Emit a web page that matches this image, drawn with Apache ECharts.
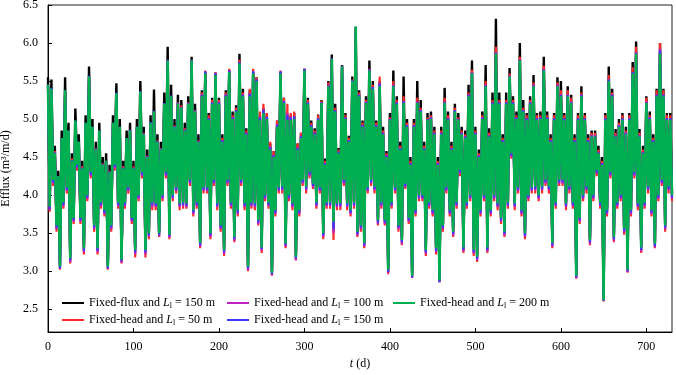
<!DOCTYPE html>
<html>
<head>
<meta charset="utf-8">
<script src="https://cdn.jsdelivr.net/npm/echarts@6/dist/echarts.min.js"></script>
<style>
  html, body { margin: 0; padding: 0; background: #fff; }
  #chart { width: 676px; height: 375px; }
</style>
</head>
<body>
<div id="chart"></div>
<script>
// values, one every 2 days (t = 0, 2, 4 ... 730)
const DAY_STEP = 2;

const fixedFlux150 = [
  5.55, 3.88, 5.52, 4.22, 4.65, 3.63, 4.32, 3.10, 4.85, 3.93,
  5.55, 4.12, 4.95, 3.20, 4.55, 3.72, 5.14, 4.42, 4.80, 3.72,
  4.45, 3.33, 5.05, 4.02, 5.69, 4.32, 5.00, 3.62, 4.70, 3.33,
  4.95, 3.92, 4.50, 3.82, 4.55, 3.10, 4.40, 3.62, 5.05, 4.42,
  5.47, 3.92, 5.00, 3.18, 4.45, 3.92, 4.85, 4.12, 4.95, 3.72,
  4.45, 3.31, 5.00, 4.02, 5.50, 4.32, 4.90, 3.31, 4.60, 3.52,
  5.05, 3.92, 5.39, 3.91, 4.80, 3.52, 4.70, 4.02, 5.35, 4.32,
  5.95, 3.50, 5.45, 4.02, 5.00, 4.12, 5.32, 3.91, 5.25, 3.92,
  4.95, 3.91, 5.30, 4.22, 5.82, 3.82, 5.20, 3.92, 4.80, 3.40,
  5.38, 4.12, 5.62, 4.12, 5.08, 3.52, 5.28, 4.22, 5.60, 3.91,
  5.28, 3.62, 4.80, 3.31, 5.38, 4.22, 5.64, 3.92, 5.10, 3.48,
  5.18, 3.82, 5.86, 4.22, 5.40, 3.91, 4.88, 3.09, 5.38, 3.92,
  5.62, 3.91, 5.55, 3.69, 5.05, 3.34, 5.15, 4.02, 5.08, 3.92,
  4.68, 3.01, 4.58, 3.82, 4.98, 4.12, 5.62, 4.13, 5.28, 3.39,
  5.05, 4.02, 5.05, 3.91, 5.08, 3.22, 4.68, 3.82, 4.82, 4.22,
  5.66, 4.13, 5.28, 4.32, 4.98, 4.17, 4.88, 3.92, 5.06, 4.12,
  5.25, 3.53, 4.48, 3.92, 5.50, 3.92, 5.85, 3.68, 5.20, 3.91,
  4.62, 3.91, 5.71, 4.22, 5.08, 3.91, 4.78, 3.82, 5.56, 3.92,
  6.18, 3.55, 5.38, 3.62, 4.98, 3.40, 5.30, 4.12, 5.77, 4.22,
  5.50, 4.13, 4.98, 3.70, 5.50, 3.92, 4.90, 3.70, 4.58, 3.05,
  5.08, 3.92, 5.64, 4.12, 5.30, 3.62, 4.70, 3.44, 5.56, 4.17,
  5.00, 3.72, 4.50, 2.98, 5.00, 3.82, 5.50, 4.02, 5.25, 4.02,
  4.70, 3.31, 5.08, 3.92, 5.10, 3.82, 4.90, 3.33, 4.50, 2.91,
  4.90, 3.62, 5.41, 4.12, 5.10, 3.82, 4.70, 3.55, 5.20, 3.92,
  5.08, 4.35, 4.90, 3.34, 4.85, 3.92, 5.45, 4.02, 5.77, 3.31,
  4.90, 3.22, 4.60, 3.82, 5.10, 4.02, 5.71, 3.34, 4.88, 3.82,
  5.35, 4.02, 6.32, 3.91, 5.35, 3.72, 4.80, 3.55, 5.35, 3.92,
  5.67, 4.57, 5.30, 3.91, 5.10, 4.12, 6.00, 3.82, 5.25, 3.53,
  5.08, 4.02, 5.30, 4.12, 5.58, 4.13, 5.08, 4.02, 5.10, 4.13,
  5.82, 4.22, 5.10, 4.13, 4.80, 3.40, 5.08, 3.92, 5.55, 4.22,
  5.50, 4.22, 5.08, 3.91, 5.43, 4.13, 5.32, 3.92, 4.80, 2.97,
  5.08, 3.72, 5.43, 4.02, 5.08, 4.13, 4.80, 3.44, 4.85, 4.02,
  4.85, 4.35, 4.65, 3.92, 4.50, 2.66, 5.08, 3.82, 5.69, 4.32,
  5.40, 3.48, 4.87, 3.92, 5.00, 4.02, 5.08, 3.59, 4.90, 3.05,
  5.08, 3.82, 5.75, 4.32, 6.02, 3.91, 4.87, 3.34, 4.65, 3.92,
  5.30, 4.13, 5.10, 3.82, 4.80, 3.39, 5.40, 4.02, 6.00, 4.22,
  5.40, 3.62, 5.08, 4.13, 5.08, 4.02
];

const fixedHead50 = [
  5.42, 3.78, 5.38, 4.12, 4.58, 3.52, 4.20, 3.02, 4.72, 3.82,
  5.36, 4.02, 4.82, 3.10, 4.48, 3.62, 4.95, 4.32, 4.68, 3.62,
  4.38, 3.22, 4.92, 3.92, 5.55, 4.22, 4.88, 3.52, 4.62, 3.22,
  4.82, 3.82, 4.42, 3.72, 4.42, 3.02, 4.32, 3.52, 4.92, 4.32,
  5.33, 3.82, 4.88, 3.10, 4.38, 3.82, 4.72, 4.02, 4.85, 3.62,
  4.38, 3.18, 4.88, 3.92, 5.35, 4.22, 4.82, 3.18, 4.52, 3.42,
  4.95, 3.80, 5.10, 3.80, 4.72, 3.45, 4.62, 3.92, 5.20, 4.22,
  5.78, 3.42, 5.30, 3.92, 4.92, 4.02, 5.22, 3.80, 5.18, 3.82,
  4.88, 3.82, 5.22, 4.12, 5.78, 3.72, 5.12, 3.82, 4.72, 3.30,
  5.35, 4.02, 5.64, 4.02, 5.05, 3.42, 5.25, 4.12, 5.62, 3.80,
  5.25, 3.52, 4.75, 3.20, 5.35, 4.12, 5.66, 3.82, 5.05, 3.38,
  5.15, 3.72, 5.78, 4.12, 5.35, 3.80, 4.85, 3.00, 5.40, 3.82,
  5.66, 3.80, 5.55, 3.60, 5.10, 3.24, 5.20, 3.92, 5.08, 3.82,
  4.70, 2.94, 4.58, 3.72, 4.98, 4.02, 5.64, 4.02, 5.28, 3.30,
  5.20, 3.92, 5.08, 3.80, 5.10, 3.14, 4.68, 3.72, 4.82, 4.12,
  5.66, 4.02, 5.25, 4.22, 4.95, 4.08, 4.85, 3.82, 5.05, 4.02,
  5.24, 3.42, 4.45, 3.82, 5.48, 3.82, 5.80, 3.41, 5.15, 3.80,
  4.60, 3.80, 5.70, 4.12, 5.05, 3.80, 4.75, 3.72, 5.52, 3.82,
  6.20, 3.45, 5.35, 3.52, 4.95, 3.30, 5.25, 4.02, 5.66, 4.12,
  5.45, 4.02, 4.95, 3.60, 5.56, 3.82, 4.85, 3.60, 4.55, 2.96,
  5.02, 3.82, 5.50, 4.02, 5.25, 3.52, 4.65, 3.34, 5.30, 4.08,
  4.95, 3.62, 4.45, 2.92, 4.95, 3.72, 5.28, 3.92, 5.15, 3.92,
  4.65, 3.20, 5.02, 3.82, 5.05, 3.72, 4.85, 3.22, 4.45, 2.86,
  4.85, 3.52, 5.28, 4.02, 5.05, 3.72, 4.65, 3.45, 5.15, 3.82,
  5.02, 4.25, 4.85, 3.24, 4.80, 3.82, 5.35, 3.92, 5.65, 3.20,
  4.85, 3.12, 4.55, 3.72, 5.05, 3.92, 5.50, 3.24, 4.82, 3.72,
  5.25, 3.92, 5.95, 3.80, 5.25, 3.62, 4.75, 3.45, 5.25, 3.82,
  5.60, 4.48, 5.25, 3.80, 5.05, 4.02, 5.82, 3.72, 5.15, 3.42,
  5.05, 3.92, 5.25, 4.02, 5.48, 4.02, 5.05, 3.92, 5.05, 4.02,
  5.70, 4.12, 5.05, 4.02, 4.75, 3.30, 5.05, 3.82, 5.48, 4.12,
  5.38, 4.12, 5.05, 3.80, 5.38, 4.02, 5.28, 3.82, 4.75, 2.90,
  5.05, 3.62, 5.35, 3.92, 5.05, 4.02, 4.75, 3.34, 4.82, 3.92,
  4.82, 4.25, 4.60, 3.82, 4.45, 2.60, 5.05, 3.72, 5.58, 4.22,
  5.35, 3.38, 4.82, 3.82, 4.95, 3.92, 5.05, 3.48, 4.85, 2.98,
  5.05, 3.72, 5.68, 4.22, 5.95, 3.80, 4.82, 3.24, 4.60, 3.82,
  5.28, 4.02, 5.05, 3.72, 4.75, 3.30, 5.38, 3.92, 6.00, 4.12,
  5.38, 3.52, 5.05, 4.02, 5.05, 3.92
];

const fixedHead100 = [
  5.44, 3.80, 5.40, 4.15, 4.56, 3.55, 4.22, 3.03, 4.74, 3.85,
  5.37, 4.05, 4.84, 3.12, 4.46, 3.65, 4.97, 4.35, 4.69, 3.65,
  4.36, 3.25, 4.94, 3.95, 5.56, 4.25, 4.89, 3.55, 4.61, 3.25,
  4.84, 3.85, 4.41, 3.75, 4.44, 3.03, 4.31, 3.55, 4.94, 4.35,
  5.34, 3.85, 4.89, 3.11, 4.36, 3.85, 4.74, 4.05, 4.85, 3.65,
  4.36, 3.22, 4.89, 3.95, 5.36, 4.25, 4.81, 3.22, 4.51, 3.45,
  4.95, 3.84, 5.10, 3.84, 4.71, 3.46, 4.61, 3.95, 5.20, 4.25,
  5.78, 3.44, 5.30, 3.95, 4.91, 4.05, 5.21, 3.84, 5.16, 3.85,
  4.86, 3.84, 5.21, 4.15, 5.77, 3.75, 5.11, 3.85, 4.71, 3.32,
  5.32, 4.05, 5.62, 4.05, 5.01, 3.45, 5.22, 4.15, 5.60, 3.84,
  5.22, 3.55, 4.72, 3.23, 5.32, 4.15, 5.64, 3.85, 5.02, 3.40,
  5.12, 3.75, 5.75, 4.15, 5.32, 3.84, 4.82, 3.02, 5.34, 3.85,
  5.63, 3.84, 5.52, 3.62, 5.03, 3.27, 5.13, 3.95, 5.03, 3.85,
  4.64, 2.95, 4.53, 3.75, 4.93, 4.05, 5.62, 4.06, 5.24, 3.32,
  5.08, 3.95, 5.03, 3.84, 5.04, 3.15, 4.63, 3.75, 4.78, 4.15,
  5.65, 4.06, 5.22, 4.25, 4.92, 4.10, 4.82, 3.85, 5.01, 4.05,
  5.22, 3.45, 4.42, 3.85, 5.45, 3.85, 5.79, 3.50, 5.12, 3.84,
  4.57, 3.84, 5.69, 4.15, 5.02, 3.84, 4.72, 3.75, 5.51, 3.85,
  6.21, 3.47, 5.32, 3.55, 4.92, 3.32, 5.23, 4.05, 5.65, 4.15,
  5.42, 4.06, 4.92, 3.62, 5.48, 3.85, 4.82, 3.62, 4.52, 2.98,
  5.00, 3.85, 5.45, 4.05, 5.22, 3.55, 4.62, 3.36, 5.24, 4.10,
  4.92, 3.65, 4.42, 2.91, 4.92, 3.75, 5.23, 3.95, 5.12, 3.95,
  4.62, 3.23, 5.00, 3.85, 5.02, 3.75, 4.82, 3.25, 4.42, 2.85,
  4.82, 3.55, 5.23, 4.05, 5.01, 3.75, 4.62, 3.47, 5.12, 3.85,
  5.00, 4.28, 4.82, 3.26, 4.77, 3.85, 5.32, 3.95, 5.61, 3.23,
  4.82, 3.14, 4.52, 3.75, 5.02, 3.95, 5.45, 3.26, 4.79, 3.75,
  5.22, 3.95, 5.88, 3.84, 5.22, 3.65, 4.72, 3.47, 5.22, 3.85,
  5.57, 4.50, 5.22, 3.84, 5.02, 4.05, 5.78, 3.75, 5.12, 3.45,
  5.01, 3.95, 5.22, 4.05, 5.45, 4.06, 5.01, 3.95, 5.02, 4.06,
  5.65, 4.15, 5.02, 4.06, 4.72, 3.32, 5.01, 3.85, 5.45, 4.15,
  5.32, 4.15, 5.01, 3.84, 5.32, 4.06, 5.23, 3.85, 4.72, 2.91,
  5.01, 3.65, 5.32, 3.95, 5.01, 4.06, 4.72, 3.36, 4.79, 3.95,
  4.79, 4.28, 4.57, 3.85, 4.42, 2.61, 5.01, 3.75, 5.52, 4.25,
  5.32, 3.40, 4.79, 3.85, 4.92, 3.95, 5.01, 3.51, 4.82, 2.99,
  5.01, 3.75, 5.62, 4.25, 5.88, 3.84, 4.79, 3.26, 4.57, 3.85,
  5.23, 4.06, 5.02, 3.75, 4.72, 3.31, 5.32, 3.95, 5.92, 4.15,
  5.32, 3.55, 5.01, 4.06, 5.01, 3.95
];

const fixedHead150 = [
  5.45, 3.82, 5.41, 4.17, 4.56, 3.57, 4.23, 3.04, 4.75, 3.87,
  5.38, 4.07, 4.85, 3.14, 4.46, 3.67, 4.98, 4.37, 4.70, 3.67,
  4.36, 3.27, 4.95, 3.97, 5.57, 4.27, 4.90, 3.57, 4.61, 3.27,
  4.85, 3.87, 4.41, 3.77, 4.45, 3.04, 4.31, 3.57, 4.95, 4.37,
  5.35, 3.87, 4.90, 3.13, 4.36, 3.87, 4.75, 4.07, 4.86, 3.67,
  4.36, 3.25, 4.90, 3.97, 5.37, 4.27, 4.81, 3.25, 4.51, 3.47,
  4.96, 3.87, 5.11, 3.86, 4.71, 3.48, 4.61, 3.97, 5.21, 4.27,
  5.78, 3.46, 5.31, 3.97, 4.91, 4.07, 5.21, 3.86, 5.16, 3.87,
  4.86, 3.86, 5.21, 4.17, 5.78, 3.77, 5.11, 3.87, 4.71, 3.34,
  5.32, 4.07, 5.63, 4.07, 5.01, 3.47, 5.22, 4.17, 5.61, 3.86,
  5.22, 3.57, 4.72, 3.25, 5.32, 4.17, 5.64, 3.87, 5.02, 3.42,
  5.12, 3.77, 5.75, 4.17, 5.32, 3.86, 4.82, 3.04, 5.33, 3.87,
  5.63, 3.86, 5.52, 3.64, 5.02, 3.29, 5.12, 3.97, 5.03, 3.87,
  4.63, 2.96, 4.52, 3.77, 4.92, 4.07, 5.63, 4.08, 5.23, 3.34,
  5.05, 3.97, 5.02, 3.86, 5.03, 3.17, 4.62, 3.77, 4.77, 4.17,
  5.66, 4.08, 5.22, 4.27, 4.92, 4.12, 4.82, 3.87, 5.01, 4.07,
  5.22, 3.47, 4.42, 3.87, 5.44, 3.87, 5.80, 3.55, 5.12, 3.86,
  4.57, 3.86, 5.70, 4.17, 5.02, 3.86, 4.72, 3.77, 5.51, 3.87,
  6.21, 3.49, 5.32, 3.57, 4.92, 3.34, 5.22, 4.07, 5.65, 4.17,
  5.42, 4.08, 4.92, 3.64, 5.46, 3.87, 4.82, 3.64, 4.52, 2.99,
  5.00, 3.87, 5.44, 4.07, 5.22, 3.57, 4.62, 3.38, 5.23, 4.12,
  4.92, 3.67, 4.42, 2.92, 4.92, 3.77, 5.22, 3.97, 5.12, 3.97,
  4.62, 3.25, 5.00, 3.87, 5.02, 3.77, 4.82, 3.27, 4.42, 2.86,
  4.82, 3.57, 5.22, 4.07, 5.01, 3.77, 4.62, 3.49, 5.12, 3.87,
  5.00, 4.30, 4.82, 3.28, 4.77, 3.87, 5.32, 3.97, 5.61, 3.25,
  4.82, 3.16, 4.52, 3.77, 5.02, 3.97, 5.44, 3.28, 4.78, 3.77,
  5.22, 3.97, 5.87, 3.86, 5.22, 3.67, 4.72, 3.49, 5.22, 3.87,
  5.57, 4.52, 5.22, 3.86, 5.02, 4.07, 5.78, 3.77, 5.12, 3.47,
  5.01, 3.97, 5.22, 4.07, 5.44, 4.08, 5.01, 3.97, 5.02, 4.08,
  5.65, 4.17, 5.02, 4.08, 4.72, 3.34, 5.01, 3.87, 5.44, 4.17,
  5.32, 4.17, 5.01, 3.86, 5.32, 4.08, 5.22, 3.87, 4.72, 2.92,
  5.01, 3.67, 5.32, 3.97, 5.01, 4.08, 4.72, 3.38, 4.78, 3.97,
  4.78, 4.30, 4.56, 3.87, 4.42, 2.61, 5.01, 3.77, 5.52, 4.27,
  5.32, 3.42, 4.78, 3.87, 4.92, 3.97, 5.01, 3.53, 4.82, 3.00,
  5.01, 3.77, 5.62, 4.27, 5.87, 3.86, 4.78, 3.28, 4.56, 3.87,
  5.22, 4.08, 5.02, 3.77, 4.72, 3.33, 5.32, 3.97, 5.90, 4.17,
  5.32, 3.57, 5.01, 4.08, 5.01, 3.97
];

const fixedHead200 = [
  5.45, 3.85, 5.40, 4.20, 4.55, 3.60, 4.25, 3.06, 4.75, 3.90,
  5.38, 4.10, 4.85, 3.17, 4.45, 3.70, 4.98, 4.40, 4.70, 3.70,
  4.35, 3.30, 4.95, 4.00, 5.56, 4.30, 4.90, 3.60, 4.60, 3.30,
  4.85, 3.90, 4.40, 3.80, 4.45, 3.06, 4.30, 3.60, 4.95, 4.40,
  5.34, 3.90, 4.90, 3.15, 4.35, 3.90, 4.75, 4.10, 4.85, 3.70,
  4.35, 3.28, 4.90, 4.00, 5.36, 4.30, 4.80, 3.28, 4.50, 3.50,
  4.95, 3.90, 5.10, 3.89, 4.70, 3.50, 4.60, 4.00, 5.20, 4.30,
  5.77, 3.48, 5.30, 4.00, 4.90, 4.10, 5.20, 3.89, 5.15, 3.90,
  4.85, 3.89, 5.20, 4.20, 5.77, 3.80, 5.10, 3.90, 4.70, 3.37,
  5.30, 4.10, 5.60, 4.10, 4.99, 3.50, 5.20, 4.20, 5.58, 3.89,
  5.20, 3.60, 4.70, 3.28, 5.30, 4.20, 5.62, 3.90, 5.00, 3.45,
  5.10, 3.80, 5.73, 4.20, 5.30, 3.89, 4.80, 3.06, 5.30, 3.90,
  5.60, 3.89, 5.50, 3.67, 4.99, 3.31, 5.08, 4.00, 5.00, 3.90,
  4.60, 2.98, 4.50, 3.80, 4.90, 4.10, 5.60, 4.11, 5.21, 3.36,
  4.99, 4.00, 4.99, 3.89, 5.00, 3.19, 4.60, 3.80, 4.75, 4.20,
  5.64, 4.11, 5.20, 4.30, 4.90, 4.15, 4.80, 3.90, 4.99, 4.10,
  5.21, 3.50, 4.40, 3.90, 5.43, 3.90, 5.79, 3.65, 5.10, 3.89,
  4.55, 3.89, 5.69, 4.20, 5.00, 3.89, 4.70, 3.80, 5.50, 3.90,
  6.22, 3.52, 5.30, 3.60, 4.90, 3.37, 5.21, 4.10, 5.64, 4.20,
  5.40, 4.11, 4.90, 3.67, 5.43, 3.90, 4.80, 3.67, 4.50, 3.02,
  4.99, 3.90, 5.43, 4.10, 5.20, 3.60, 4.60, 3.41, 5.21, 4.15,
  4.90, 3.70, 4.40, 2.94, 4.90, 3.80, 5.21, 4.00, 5.10, 4.00,
  4.60, 3.28, 4.99, 3.90, 5.00, 3.80, 4.80, 3.30, 4.40, 2.88,
  4.80, 3.60, 5.21, 4.10, 4.99, 3.80, 4.60, 3.52, 5.10, 3.90,
  4.99, 4.33, 4.80, 3.31, 4.75, 3.90, 5.30, 4.00, 5.60, 3.28,
  4.80, 3.19, 4.50, 3.80, 5.00, 4.00, 5.43, 3.31, 4.77, 3.80,
  5.20, 4.00, 5.86, 3.89, 5.20, 3.70, 4.70, 3.52, 5.20, 3.90,
  5.56, 4.55, 5.20, 3.89, 5.00, 4.10, 5.77, 3.80, 5.10, 3.50,
  4.99, 4.00, 5.20, 4.10, 5.43, 4.11, 4.99, 4.00, 5.00, 4.11,
  5.64, 4.20, 5.00, 4.11, 4.70, 3.37, 4.99, 3.90, 5.43, 4.20,
  5.30, 4.20, 4.99, 3.89, 5.30, 4.11, 5.21, 3.90, 4.70, 2.94,
  4.99, 3.70, 5.30, 4.00, 4.99, 4.11, 4.70, 3.41, 4.77, 4.00,
  4.77, 4.33, 4.55, 3.90, 4.40, 2.62, 4.99, 3.80, 5.50, 4.30,
  5.30, 3.45, 4.77, 3.90, 4.90, 4.00, 4.99, 3.56, 4.80, 3.02,
  4.99, 3.80, 5.60, 4.30, 5.86, 3.89, 4.77, 3.31, 4.55, 3.90,
  5.21, 4.11, 5.00, 3.80, 4.70, 3.36, 5.30, 4.00, 5.86, 4.20,
  5.30, 3.60, 4.99, 4.11, 4.99, 4.00
];

const seriesNames = [
  'Fixed-flux and L_l = 150 m',
  'Fixed-head and L_l = 50 m',
  'Fixed-head and L_l = 100 m',
  'Fixed-head and L_l = 150 m',
  'Fixed-head and L_l = 200 m'
];
const seriesValues = [fixedFlux150, fixedHead50, fixedHead100, fixedHead150, fixedHead200];
const seriesColors = ['#000000', '#ff2a2a', '#c020c0', '#3a3aff', '#00b050'];
const seriesWidths = [2.4, 2.2, 2.2, 2.2, 2.6];

const xTicks = [0, 100, 200, 300, 400, 500, 600, 700];
const yTicks = [2.5, 3.0, 3.5, 4.0, 4.5, 5.0, 5.5, 6.0, 6.5];

const FONT = '"Liberation Serif", "Times New Roman", serif';

const chart = echarts.init(document.getElementById('chart'));

const toPairs = (vals) => vals.map((v, i) => [i * DAY_STEP, v]);

const legendText = (name) => name.replace('L_l', '{i|L}{sub|l}');
const legendRich = {
  i: { fontStyle: 'italic', fontFamily: FONT, fontSize: 12, color: '#000' },
  sub: { fontFamily: FONT, fontSize: 8, color: '#000', padding: [6, 0, 0, 0] }
};

const makeLegend = (left, names) => ({
  left: left,
  top: 292,
  orient: 'vertical',
  itemWidth: 22,
  itemHeight: 2,
  itemGap: 4,
  icon: 'rect',
  data: names,
  formatter: legendText,
  textStyle: { fontFamily: FONT, fontSize: 12, color: '#000', rich: legendRich }
});

const option = {
  animation: false,
  backgroundColor: '#fff',
  color: seriesColors,
  grid: {
    left: 48, right: 4, top: 5, bottom: 43,
    outerBoundsMode: 'none',
    containLabel: false,
    show: true, borderColor: '#222', borderWidth: 1
  },
  legend: [
    makeLegend(57, [seriesNames[0], seriesNames[1]]),
    makeLegend(222, [seriesNames[2], seriesNames[3]]),
    makeLegend(388, [seriesNames[4]])
  ],
  xAxis: {
    type: 'value',
    min: 0,
    max: 730,
    name: '{i|t} (d)',
    nameLocation: 'middle',
    nameGap: 26,
    nameTextStyle: {
      fontFamily: FONT, fontSize: 12, color: '#000',
      rich: { i: { fontStyle: 'italic', fontFamily: FONT, fontSize: 12, color: '#000' } }
    },
    axisLine: { onZero: false, lineStyle: { color: '#000', width: 1 } },
    axisTick: { inside: true, length: 4, customValues: xTicks, lineStyle: { color: '#000' } },
    axisLabel: { customValues: xTicks, fontFamily: FONT, fontSize: 12, color: '#000', margin: 9 },
    splitLine: { show: false }
  },
  yAxis: {
    type: 'value',
    min: 2.2,
    max: 6.5,
    name: 'Efflux (m\u00b3/m/d)',
    nameLocation: 'middle',
    nameGap: 34,
    nameTextStyle: { fontFamily: FONT, fontSize: 12, color: '#000' },
    axisLine: { show: true, onZero: false, lineStyle: { color: '#000', width: 1 } },
    axisTick: { show: true, inside: true, length: 4, customValues: yTicks, lineStyle: { color: '#000' } },
    axisLabel: {
      customValues: yTicks, fontFamily: FONT, fontSize: 12, color: '#000', margin: 10,
      formatter: (v) => v.toFixed(1)
    },
    splitLine: { show: false }
  },
  series: seriesNames.map((name, k) => ({
    name: name,
    type: 'line',
    data: toPairs(seriesValues[k]),
    showSymbol: false,
    symbol: 'none',
    sampling: 'none',
    lineStyle: { width: seriesWidths[k], color: seriesColors[k] },
    itemStyle: { color: seriesColors[k] },
    z: 2 + k
  }))
};

chart.setOption(option);
</script>
</body>
</html>
